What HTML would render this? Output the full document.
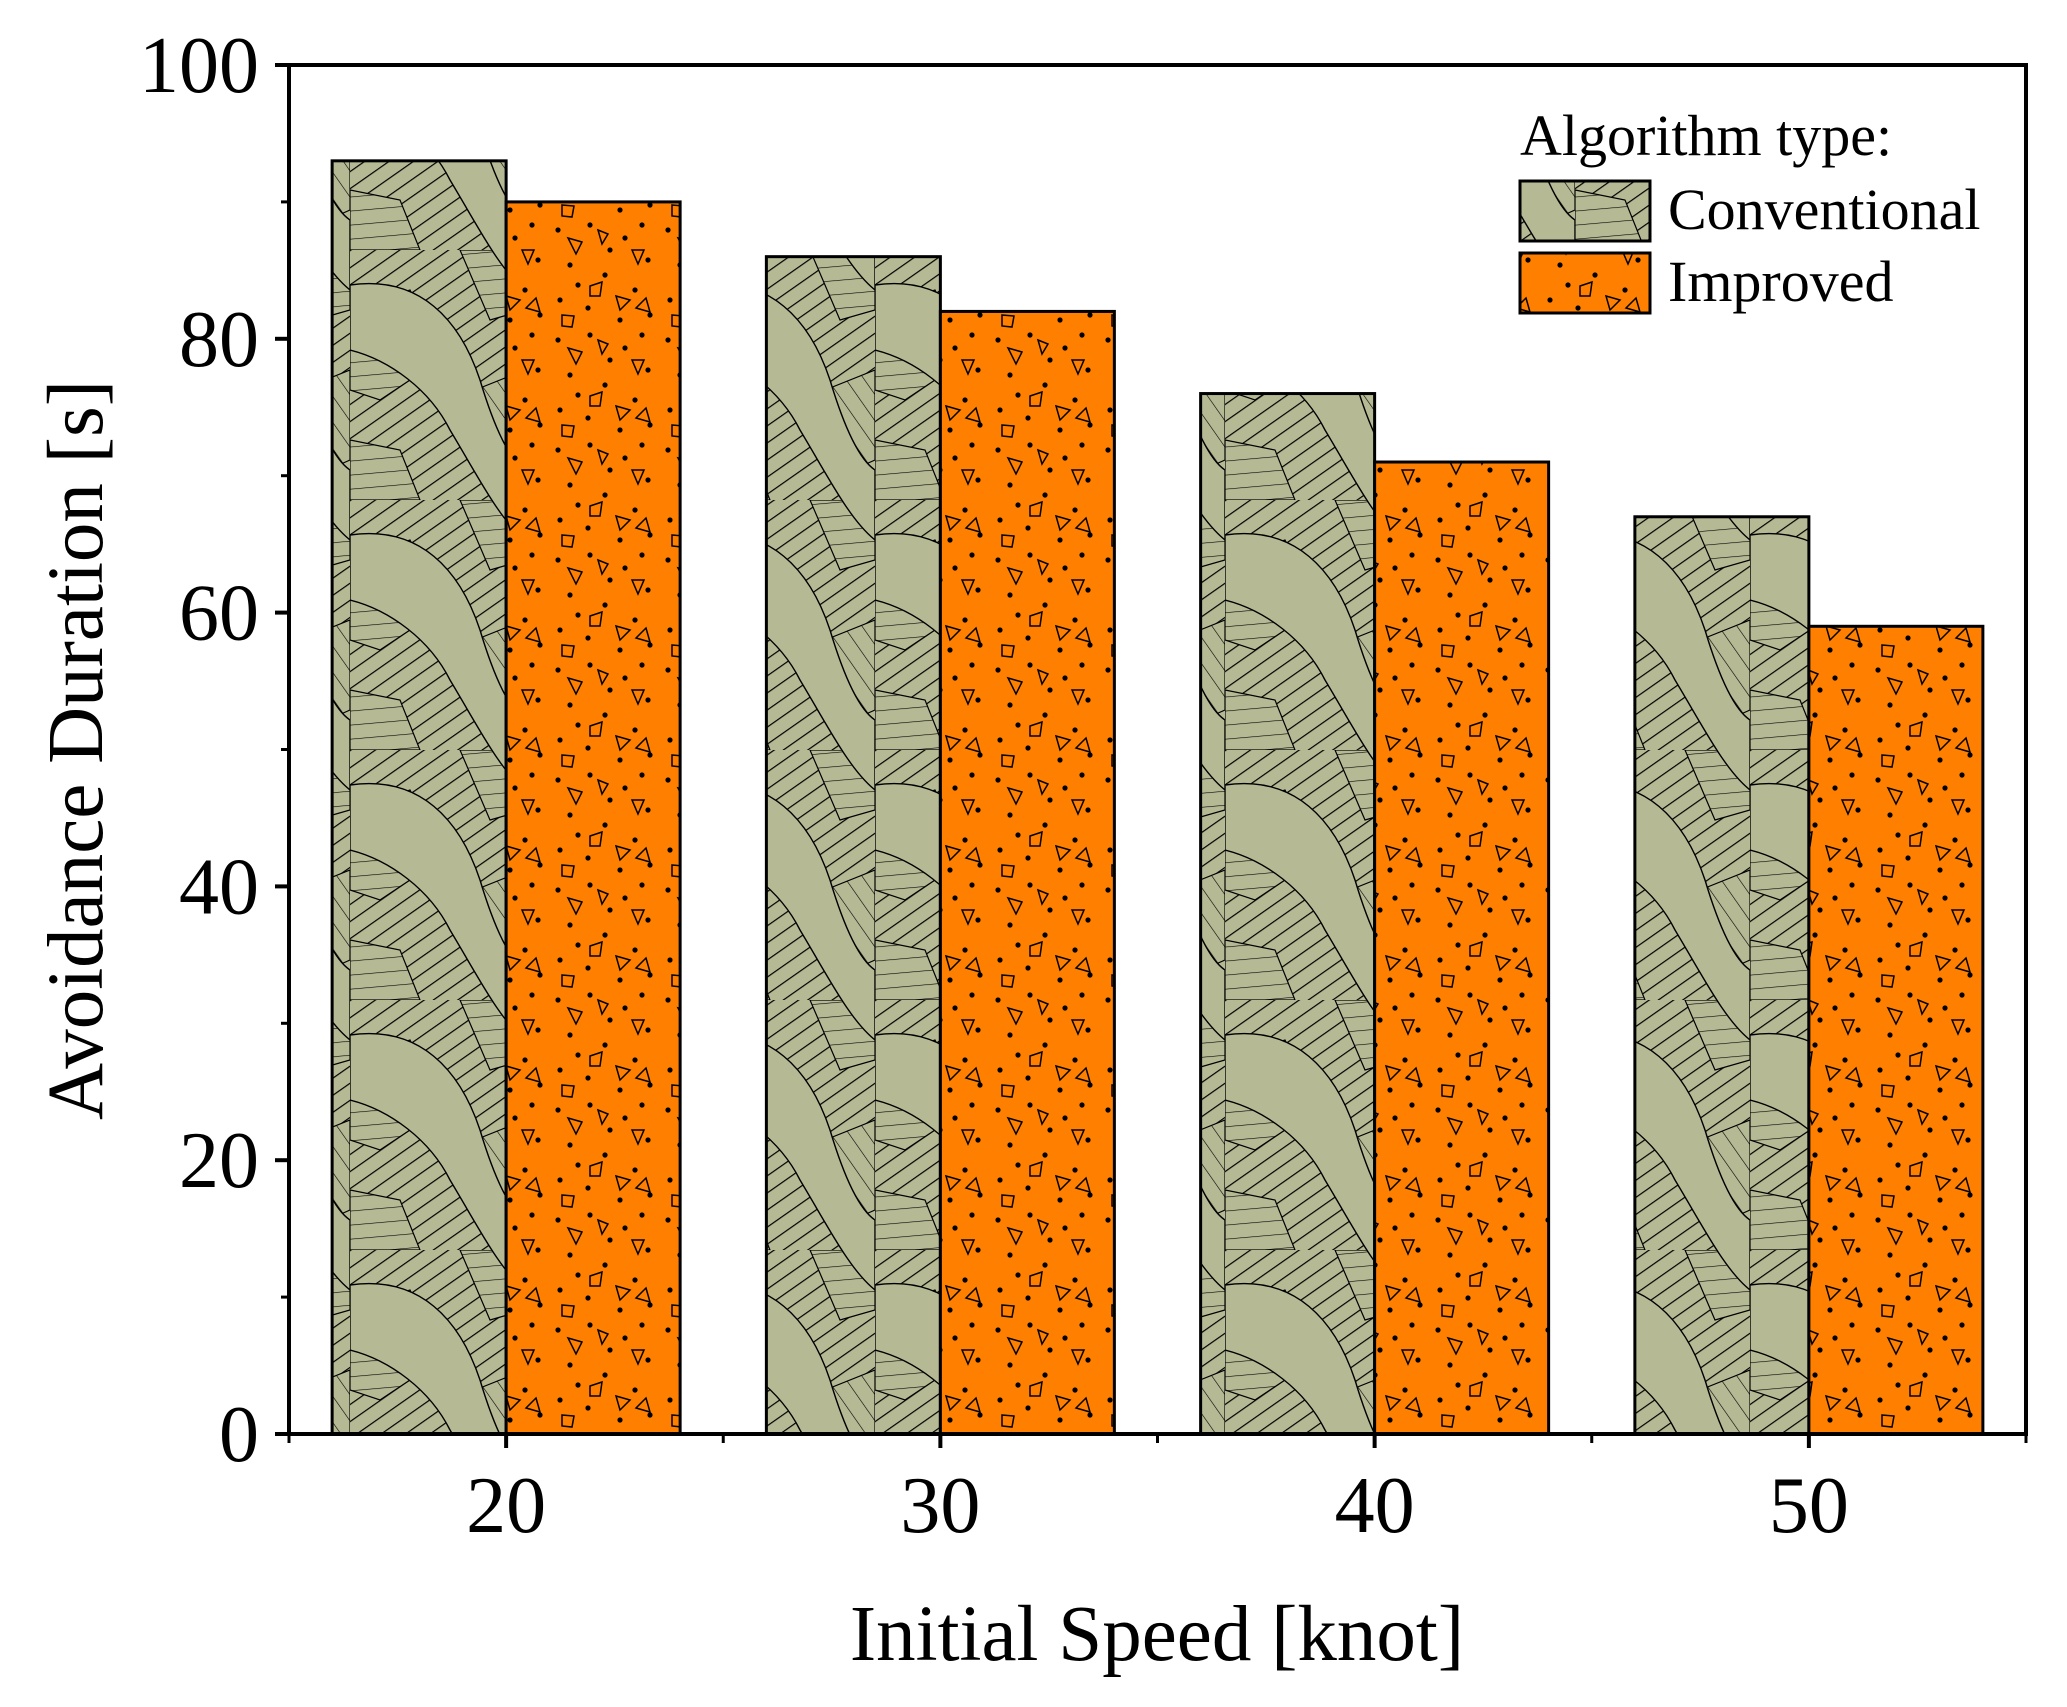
<!DOCTYPE html>
<html><head><meta charset="utf-8"><style>
html,body{margin:0;padding:0;background:#fff}
svg{display:block}
text{font-family:"Liberation Serif",serif;fill:#000}
</style></head><body>
<svg id="chart" width="2067" height="1707" viewBox="0 0 2067 1707" xmlns="http://www.w3.org/2000/svg">
<defs>
  <pattern id="hatchA" patternUnits="userSpaceOnUse" width="14" height="14" patternTransform="rotate(55)">
    <rect width="14" height="14" fill="#b5b994"/><line x1="0" y1="0" x2="0" y2="14" stroke="#000" stroke-width="2.4"/>
  </pattern>
  <pattern id="hatchB" patternUnits="userSpaceOnUse" width="14" height="14" patternTransform="rotate(-5)">
    <rect width="14" height="14" fill="#b5b994"/><line x1="0" y1="0" x2="14" y2="0" stroke="#000" stroke-width="1.2"/>
  </pattern>
  <pattern id="hatchC" patternUnits="userSpaceOnUse" width="15" height="15" patternTransform="rotate(-35)">
    <rect width="15" height="15" fill="#b5b994"/><line x1="0" y1="0" x2="0" y2="15" stroke="#000" stroke-width="1.2"/>
  </pattern>
  <pattern id="conv" patternUnits="userSpaceOnUse" width="175" height="250">
    <rect width="175" height="250" fill="url(#hatchA)"/>
    <polygon points="0,60 60,40 90,110 30,150 0,140" fill="url(#hatchB)" stroke="#000" stroke-width="1.2"/>
    <polygon points="100,150 175,120 175,210 130,230" fill="url(#hatchC)" stroke="#000" stroke-width="1.2"/>
    <polygon points="0,190 50,200 70,250 0,250" fill="url(#hatchB)" stroke="#000" stroke-width="1.2"/>
    <polygon points="110,0 175,0 175,60 140,70" fill="url(#hatchB)" stroke="#000" stroke-width="1.2"/>
    <g fill="#b5b994" stroke="#000" stroke-width="1.4">
      <path d="M0,-215 C70,-225 110,-180 130,-120 C145,-70 160,-40 175,-30 L175,40 C150,20 130,-20 100,-70 C80,-110 40,-140 0,-150 Z"/>
      <path d="M0,35 C70,25 110,70 130,130 C145,180 160,210 175,220 L175,290 C150,270 130,230 100,180 C80,140 40,110 0,100 Z"/>
    </g>
  </pattern>
  <pattern id="impr" patternUnits="userSpaceOnUse" width="110" height="110">
    <rect width="110" height="110" fill="#ff7f00"/>
    <g fill="#000">
      <circle cx="8" cy="10" r="2.6"/><circle cx="40" cy="5" r="2.6"/><circle cx="75" cy="18" r="2.6"/>
      <circle cx="98" cy="40" r="2.6"/><circle cx="20" cy="45" r="2.6"/><circle cx="55" cy="55" r="2.6"/>
      <circle cx="85" cy="70" r="2.6"/><circle cx="10" cy="80" r="2.6"/><circle cx="38" cy="88" r="2.6"/>
      <circle cx="70" cy="100" r="2.6"/><circle cx="100" cy="95" r="2.6"/><circle cx="60" cy="30" r="2.6"/>
      <circle cx="28" cy="65" r="2.6"/><circle cx="92" cy="5" r="2.6"/>
    </g>
    <g fill="none" stroke="#000" stroke-width="1.5">
      <polygon points="18,18 32,22 26,34"/><polygon points="82,30 94,30 88,44"/>
      <polygon points="40,66 52,62 50,76 40,76"/><polygon points="66,76 80,80 70,90"/>
      <polygon points="12,95 24,96 22,107 12,106"/><polygon points="48,10 58,14 52,24"/>
      <polygon points="86,88 96,78 100,92"/>
    </g>
  </pattern>
</defs>
<g id="bars"></g>
<g id="axes"></g>
<g id="legend">
  <text x="1520" y="155" font-size="58">Algorithm type:</text>
  <rect x="1520" y="181" width="130" height="60" fill="url(#conv)" stroke="#000" stroke-width="3"/>
  <text x="1668" y="229" font-size="58">Conventional</text>
  <rect x="1520" y="253" width="130" height="60" fill="url(#impr)" stroke="#000" stroke-width="3"/>
  <text x="1668" y="301" font-size="58">Improved</text>
</g>
<text x="1157" y="1660" font-size="79" text-anchor="middle">Initial Speed [knot]</text>
<text transform="translate(102,750) rotate(-90)" font-size="79" text-anchor="middle">Avoidance Duration [s]</text>
</svg>
<script>
const categories = [20, 30, 40, 50];
const conventional = [93, 86, 76, 67];
const improved = [90, 82, 71, 59];
const yTicks = [0, 20, 40, 60, 80, 100];
const yMinorTicks = [10, 30, 50, 70, 90];
const xMinorTicks = [15, 25, 35, 45, 55];

const L = 289, R = 2026, T = 65, B = 1434;
const x = v => L + (v - 15) / 40 * (R - L);
const y = v => B - v / 100 * (B - T);
const barW = 174;
const NS = 'http://www.w3.org/2000/svg';
const bars = document.getElementById('bars');
const axes = document.getElementById('axes');
function mk(tag, attrs, parent) {
  const e = document.createElementNS(NS, tag);
  for (const k in attrs) e.setAttribute(k, attrs[k]);
  parent.appendChild(e);
  return e;
}
categories.forEach((c, i) => {
  const cx = x(c);
  const b1 = mk('rect', {x: cx - barW, y: y(conventional[i]), width: barW, height: B - y(conventional[i]), fill: 'url(#conv)', stroke: '#000', 'stroke-width': 3}, bars);
  
  
  const b2 = mk('rect', {x: cx, y: y(improved[i]), width: barW, height: B - y(improved[i]), fill: 'url(#impr)', stroke: '#000', 'stroke-width': 3}, bars);
  
  
});
const frame = mk('rect', {x: L, y: T, width: R - L, height: B - T, fill: 'none', stroke: '#000', 'stroke-width': 4}, axes);


yTicks.forEach(v => {
  mk('line', {x1: L - 14, x2: L, y1: y(v), y2: y(v), stroke: '#000', 'stroke-width': 4}, axes);
  const t = mk('text', {x: L - 30, y: y(v) + 27, 'font-size': 80, 'text-anchor': 'end'}, axes);
  t.textContent = v;
  
  
});
yMinorTicks.forEach(v => {
  mk('line', {x1: L - 8, x2: L, y1: y(v), y2: y(v), stroke: '#000', 'stroke-width': 3}, axes);
});
categories.forEach(c => {
  mk('line', {x1: x(c), x2: x(c), y1: B, y2: B + 14, stroke: '#000', 'stroke-width': 4}, axes);
  const t = mk('text', {x: x(c), y: B + 98, 'font-size': 80, 'text-anchor': 'middle'}, axes);
  t.textContent = c;
  
  
});
xMinorTicks.forEach(v => {
  mk('line', {x1: x(v), x2: x(v), y1: B, y2: B + 9, stroke: '#000', 'stroke-width': 3}, axes);
});
</script>
</body></html>
